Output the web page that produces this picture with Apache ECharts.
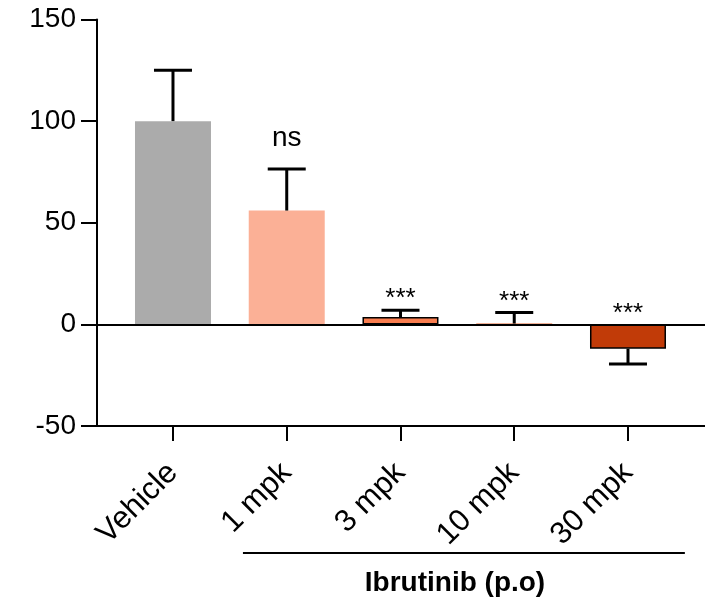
<!DOCTYPE html>
<html>
<head>
<meta charset="utf-8">
<script src="https://cdn.jsdelivr.net/npm/echarts@6/dist/echarts.min.js"></script>
<style>
  html, body { margin: 0; padding: 0; background: #fff; }
  #chart { width: 705px; height: 604px; }
</style>
</head>
<body>
<div id="chart"></div>
<script>
// groups on the x axis
var categories = ['Vehicle', '1 mpk', '3 mpk', '10 mpk', '30 mpk'];
// mean (% of vehicle) and error (SEM)
var means = [100, 56, 3.6, 0.4, -12];
var errors = [25, 20.5, 3.4, 5.4, 7.5];
var marks = ['', 'ns', '***', '***', '***'];
var yTicks = [-50, 0, 50, 100, 150];

var barColors = ['#ABABAB', '#FBB096', '#F97D4F', '#E2602A', '#C13B08'];
var barBorders = [0, 0, 1.5, 0, 1.5];
var markOffset = [0, 17, -2, -2, -2];
var font = 'Liberation Sans, Arial, sans-serif';

var xPos = categories.map(function (c, i) { return i; });

var chart = echarts.init(document.getElementById('chart'));

var barData = means.map(function (v, i) {
    return {
        value: [xPos[i], v],
        itemStyle: {
            color: barColors[i],
            borderColor: '#000',
            borderWidth: barBorders[i]
        }
    };
});

var errData = means.map(function (v, i) {
    return [xPos[i], v, errors[i], i];
});

chart.setOption({
    animation: false,
    grid: { left: 97, right: 0, top: 19.5, bottom: 178, containLabel: false },
    xAxis: {
        type: 'value',
        min: -0.668,
        max: 4.677,
        splitLine: { show: false },
        axisLine: { show: true, onZero: false, lineStyle: { color: '#000', width: 2 } },
        axisTick: { show: true, length: 15, lineStyle: { color: '#000', width: 2 }, customValues: xPos },
        axisLabel: {
            customValues: xPos,
            rotate: 45,
            margin: 42,
            fontSize: 31,
            fontFamily: font,
            color: '#000',
            formatter: function (v) { return categories[Math.round(v)]; }
        }
    },
    yAxis: {
        type: 'value',
        min: yTicks[0],
        max: yTicks[yTicks.length - 1],
        interval: 50,
        splitLine: { show: false },
        axisLine: { show: true, onZero: false, lineStyle: { color: '#000', width: 2 } },
        axisTick: { show: true, length: 16, lineStyle: { color: '#000', width: 2 } },
        axisLabel: { fontSize: 28, fontFamily: font, color: '#000', margin: 21 }
    },
    series: [
        {
            type: 'bar',
            barWidth: 76,
            data: barData,
            z: 2,
            markLine: {
                silent: true,
                symbol: ['none', 'none'],
                label: { show: false },
                lineStyle: { color: '#000', width: 2, type: 'solid' },
                data: [{ yAxis: 0 }]
            }
        },
        {
            type: 'custom',
            z: 3,
            data: errData,
            renderItem: function (params, api) {
                var x = api.value(0), m = api.value(1), e = api.value(2), i = api.value(3);
                var end = m >= 0 ? m + e : m - e;
                var p0 = api.coord([x, m]);
                var p1 = api.coord([x, end]);
                var half = 19;
                var top = api.coord([x, m >= 0 ? end : 0]);
                var children = [
                    { type: 'line', shape: { x1: p0[0], y1: p0[1], x2: p1[0], y2: p1[1] },
                      style: { stroke: '#000', lineWidth: 3 } },
                    { type: 'line', shape: { x1: p1[0] - half, y1: p1[1], x2: p1[0] + half, y2: p1[1] },
                      style: { stroke: '#000', lineWidth: 3 } }
                ];
                if (marks[i]) {
                    children.push({
                        type: 'text',
                        style: {
                            text: marks[i], x: top[0], y: top[1] - markOffset[i],
                            align: 'center', verticalAlign: 'bottom',
                            font: (marks[i] === 'ns' ? 28 : 26) + 'px ' + font,
                            fill: '#000'
                        }
                    });
                }
                return { type: 'group', children: children };
            }
        }
    ]
});

// group bracket under the treated doses
var a = chart.convertToPixel({ gridIndex: 0 }, [0.615, -50]);
var b = chart.convertToPixel({ gridIndex: 0 }, [4.5, -50]);
chart.setOption({
    graphic: [
        { type: 'line', shape: { x1: a[0], y1: 553, x2: b[0], y2: 553 },
          style: { stroke: '#000', lineWidth: 2 } },
        { type: 'text', style: { text: 'Ibrutinib (p.o)', x: 455, y: 583, align: 'center',
          verticalAlign: 'middle', font: 'bold 28px ' + font, fill: '#000' } }
    ]
});
</script>
</body>
</html>
